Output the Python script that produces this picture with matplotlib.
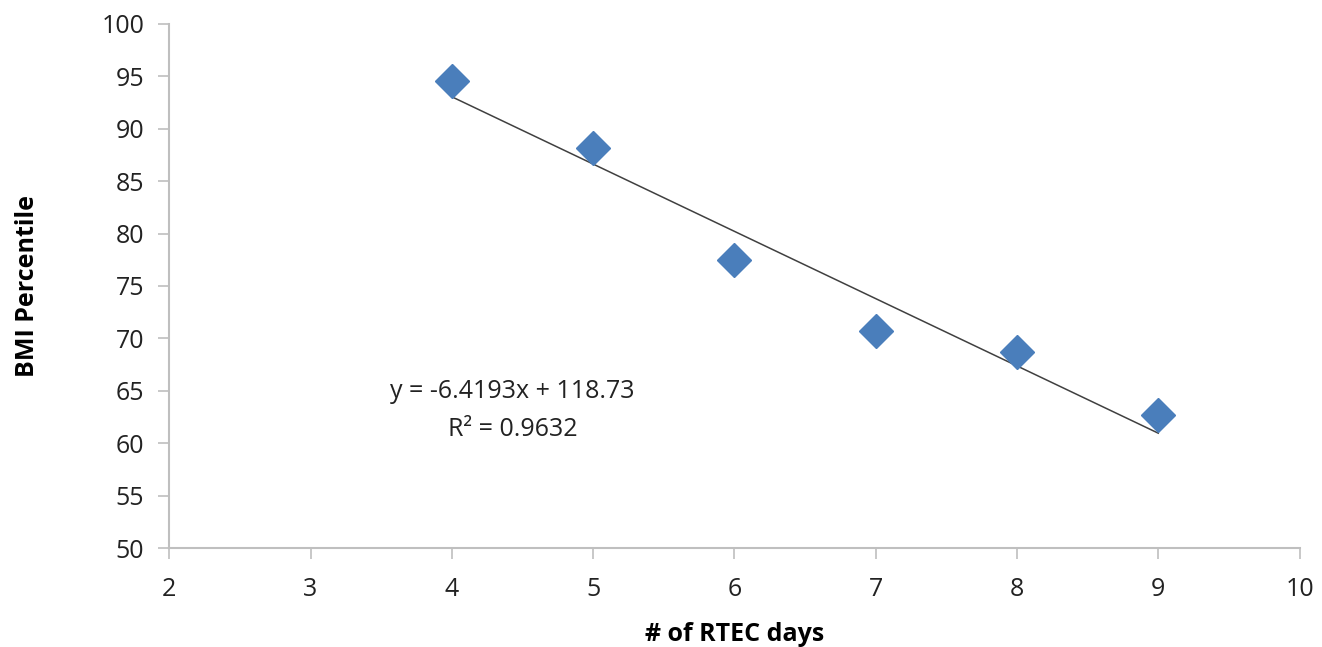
import matplotlib.pyplot as plt
import numpy as np

# data
rtec_days = [4, 5, 6, 7, 8, 9]
bmi_pct = [94.6, 88.2, 77.5, 70.7, 68.7, 62.7]
slope = -6.4193
intercept = 118.73
r2 = 0.9632

plt.rcParams['font.family'] = ['Open Sans', 'DejaVu Sans']

fig = plt.figure(figsize=(13.22, 6.47), dpi=100)
ax = fig.add_axes([0.128, 0.153, 0.855, 0.810])

# trend line, Excel-style, only across the data range
xt = np.array([min(rtec_days), max(rtec_days)])
ax.plot(xt, slope * xt + intercept, color='#404040', lw=1.1, zorder=2)
ax.plot(rtec_days, bmi_pct, ls='none', marker='D', ms=17, color='#4A7EBB',
        markeredgecolor='#4A7EBB', zorder=3)

ax.text(4.43, 64.9, 'y = -6.4193x + 118.73', ha='center', va='center', fontsize=18, color='#222222')
ax.text(4.43, 61.3, 'R² = 0.9632', ha='center', va='center', fontsize=18, color='#222222')

ax.set_xlim(2, 10)
ax.set_ylim(50, 100)
ax.set_xticks(range(2, 11))
ax.set_yticks(range(50, 101, 5))

for s in ['top', 'right']:
    ax.spines[s].set_visible(False)
for s in ['left', 'bottom']:
    ax.spines[s].set_color('#BFBFBF')
    ax.spines[s].set_linewidth(1.5)
ax.tick_params(colors='#BFBFBF', labelcolor='#222222', labelsize=18, length=8, width=1.2)
ax.tick_params(axis='x', pad=13)
ax.tick_params(axis='y', pad=10)

ax.set_xlabel('# of RTEC days', fontsize=18, fontweight='bold', labelpad=14)
ax.set_ylabel('BMI Percentile', fontsize=18, fontweight='bold', labelpad=44)

fig.savefig('out.png', dpi=100)
